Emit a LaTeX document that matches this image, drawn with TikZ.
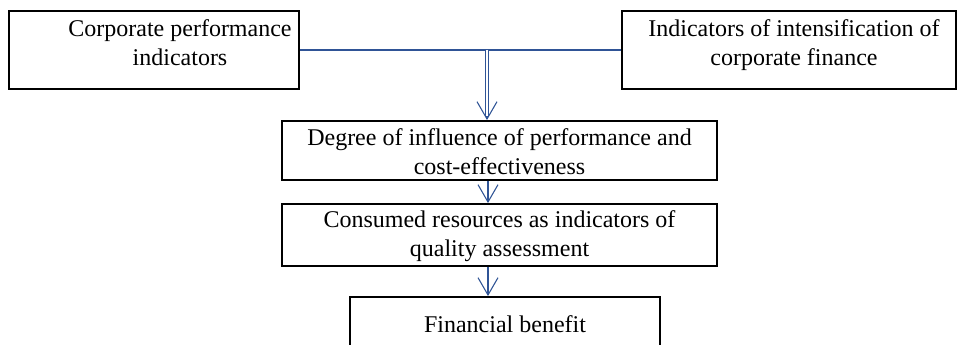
\documentclass[tikz,border=0pt]{standalone}
\usepackage{fontspec}
\setmainfont{Liberation Serif}
\usetikzlibrary{arrows.meta,calc}
\definecolor{linkblue}{HTML}{2F5496}
\tikzset{
  box/.style={draw=black, line width=1.4pt, rectangle, inner sep=0pt},
  lbl/.style={inner sep=0pt, align=center, anchor=base, font=\fontsize{18pt}{21.75pt}\selectfont},
  link/.style={draw=linkblue, line width=0.8pt},
  tip/.style={draw=linkblue, line width=0.8pt, -{Straight Barb[length=13pt,width=15pt]}},
}
\begin{document}
\begin{tikzpicture}[x=0.75pt,y=-0.75pt]
\useasboundingbox (0,0) rectangle (958,345);
\fill[white] (0,0) rectangle (958,345);
\clip (0,0) rectangle (958,345);
% boxes
\node[box, minimum width=217.5pt, minimum height=58.5pt] (left) at (154,50) {};
\node[box, minimum width=250.5pt, minimum height=58.5pt] (right) at (789,50) {};
\node[box, minimum width=326.25pt, minimum height=44.25pt] (b1) at (499.5,150.5) {};
\node[box, minimum width=326.25pt, minimum height=46.5pt] (b2) at (499.5,235) {};
\node[box, minimum width=232.5pt, minimum height=60pt] (b3) at (505,337) {};
% labels (base anchor = baseline of last line)
\node[lbl] (tl) at (180,66) {Corporate performance\\indicators};
\node[lbl] (tr) at (794,66) {Indicators of intensification of\\corporate finance};
\node[lbl] (t1) at (499.5,175) {Degree of influence of performance and\\cost-effectiveness};
\node[lbl] (t2) at (499.5,257) {Consumed resources as indicators of\\quality assessment};
\node[lbl] (t3) at (505,333) {Financial benefit};
% connectors
\coordinate (j) at (487,50);
\coordinate (ax) at (488,0);
\draw[link] (left.east) -- (right.west);
\draw[draw=linkblue, line width=0.6pt, double=white, double distance=1.6pt] (j) -- ($(j |- b1.north)+(0,-3)$);
\draw[tip] ($(j |- b1.north)+(0,-4)$) -- (j |- b1.north);
\draw[tip] (ax |- b1.south) -- (ax |- b2.north);
\draw[tip] (ax |- b2.south) -- (ax |- b3.north);
\end{tikzpicture}
\end{document}
